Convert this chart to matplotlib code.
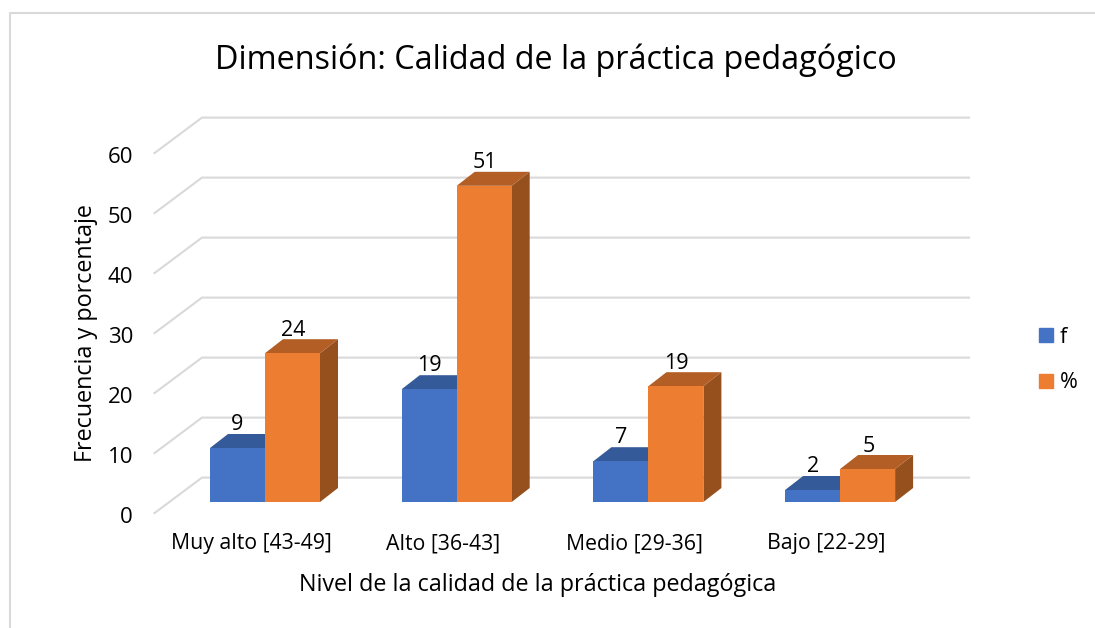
#!/usr/bin/env python3
"""Dimension chart redrawn with hand-built 3D look bars."""
import matplotlib
matplotlib.use("Agg")
import matplotlib.pyplot as plt
from matplotlib.lines import Line2D
from matplotlib.patches import Patch, Polygon

W, H = 1095, 628

categories = ["Muy alto [43-49]", "Alto [36-43]", "Medio [29-36]", "Bajo [22-29]"]
f_heights = [9.0, 18.8, 6.8, 2.0]
pct_heights = [24.8, 52.7, 19.3, 5.5]
f_labels = ["9", "19", "7", "2"]
pct_labels = ["24", "51", "19", "5"]
y_ticks = [0, 10, 20, 30, 40, 50, 60]

BLUE = ("#4472C4", "#355A99", "#2F5087")
ORANGE = ("#ED7D31", "#B25E25", "#96501E")
GRID = "#D9D9D9"

plt.rcParams["font.family"] = ["Open Sans", "DejaVu Sans"]

PITCH = 191.7   # px per category
UNIT = 6.0      # px per value unit
BAR_W = 55 / PITCH
BAR_DX, BAR_DY = 18 / PITCH, 14 / UNIT
WALL_DX, WALL_DY = 47.5 / PITCH, 35.5 / UNIT
FLOOR = -1.85   # front floor edge, below the bar base
LEFT = -0.0 - 110.5 / PITCH  # front corner of the floor
RIGHT = 704 / PITCH

fig = plt.figure(figsize=(W / 100, H / 100), dpi=100)
# axes box in px, value 0 of the bars at py=502, first group centre at px=265
px0, px1, py0, py1 = 140, 1000, 525, 100
ax = fig.add_axes([px0 / W, 1 - py0 / H, (px1 - px0) / W, (py0 - py1) / H])
ax.set_xlim((px0 - 265) / PITCH, (px1 - 265) / PITCH)
ax.set_ylim((502 - py0) / UNIT, (502 - py1) / UNIT)
for s in ax.spines.values():
    s.set_visible(False)


def bar3d(x0, h, cols):
    front, top, side = cols
    x1 = x0 + BAR_W
    ax.add_patch(Polygon([(x1, 0), (x1 + BAR_DX, BAR_DY), (x1 + BAR_DX, h + BAR_DY), (x1, h)],
                         fc=side, ec="none", zorder=3))
    ax.add_patch(Polygon([(x0, h), (x1, h), (x1 + BAR_DX, h + BAR_DY), (x0 + BAR_DX, h + BAR_DY)],
                         fc=top, ec="none", zorder=3))
    ax.bar(x0, h, BAR_W, align="edge", color=front, zorder=4)


# walls: diagonal on the side, horizontal on the back
for v in y_ticks:
    y = v + FLOOR
    ax.plot([LEFT, LEFT + WALL_DX, RIGHT], [y, y + WALL_DY, y + WALL_DY],
            color=GRID, lw=1.5, zorder=1, solid_joinstyle="miter")

for i, cat in enumerate(categories):
    bar3d(i - BAR_W, f_heights[i], BLUE)
    bar3d(i, pct_heights[i], ORANGE)
    ax.text(i - BAR_W / 2, f_heights[i] + 3.9, f_labels[i], ha="center", va="center",
            fontsize=15.5, color="black", zorder=5)
    ax.text(i + BAR_W / 2 + 0.005, pct_heights[i] + 3.8, pct_labels[i], ha="center", va="center",
            fontsize=15.5, color="black", zorder=5)

ax.set_yticks([v + FLOOR - 0.35 for v in y_ticks])
ax.set_yticklabels([str(v) for v in y_ticks], fontsize=16)
ax.set_xticks([i - 0.07 for i in range(len(categories))])
ax.set_xticklabels(categories, fontsize=15.3)
ax.tick_params(axis="both", length=0)
ax.tick_params(axis="y", pad=5)
ax.tick_params(axis="x", pad=6)

fig.text(556 / W, 1 - 60 / H, "Dimensión: Calidad de la práctica pedagógico",
         ha="center", va="center", fontsize=23.3)
fig.text(538 / W, 1 - 585 / H, "Nivel de la calidad de la práctica pedagógica",
         ha="center", va="center", fontsize=16.8)
fig.text(86 / W, 1 - 333 / H, "Frecuencia y porcentaje", rotation=90,
         ha="center", va="center", fontsize=16.8)

ax.legend(handles=[Patch(color=BLUE[0], label="f"), Patch(color=ORANGE[0], label="%")],
          loc="center left", bbox_to_anchor=(1039 / W, 1 - 360 / H),
          bbox_transform=fig.transFigure, frameon=False, fontsize=15.5,
          handlelength=0.65, handleheight=0.65, handletextpad=0.3, labelspacing=1.15,
          borderpad=0, borderaxespad=0)

# picture frame, only top and left show
fig.add_artist(Line2D([10 / W, 10 / W, 1], [0, 1 - 12.5 / H, 1 - 12.5 / H], color=GRID, lw=1.5))

fig.savefig("out.png", dpi=100)
